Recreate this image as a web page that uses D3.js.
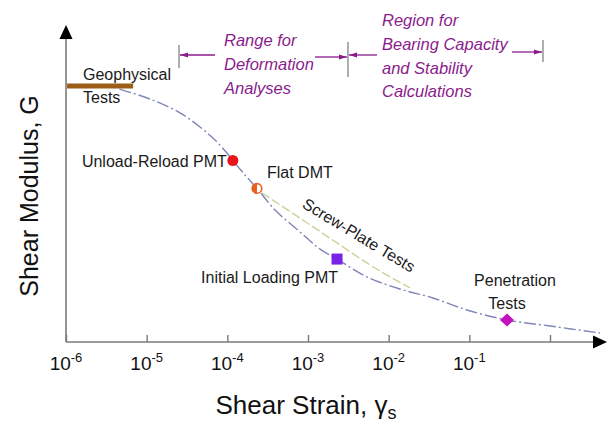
<!DOCTYPE html>
<html>
<head>
<meta charset="utf-8">
<script src="https://cdn.jsdelivr.net/npm/d3@7"></script>
<style>
  html, body { margin: 0; padding: 0; background: #fff; }
  svg { display: block; }
  text { font-family: "Liberation Sans", Arial, Helvetica, sans-serif; }
</style>
</head>
<body>
<svg id="chart" width="607" height="424"></svg>
<script>
// ---------- data ----------
const tickValues = [1e-6, 1e-5, 1e-4, 1e-3, 1e-2, 1e-1, 1];
const tickExponents = ["-6", "-5", "-4", "-3", "-2", "-1", ""];

// main modulus degradation curve (strain, normalised G)
const curveStrain = [4.6e-6, 1.10e-5, 2.59e-5, 4.58e-5, 7.03e-5, 9.90e-5, 1.17e-4, 1.66e-4, 2.33e-4, 3.9e-4, 7.96e-4, 1.41e-3, 2.29e-3, 5.38e-3, 1.38e-2, 3.54e-2, 9.35e-2, 0.293, 1.0, 4.17];
const curveG      = [0.988, 0.949, 0.895, 0.840, 0.789, 0.738, 0.709, 0.652, 0.600, 0.516, 0.430, 0.363, 0.324, 0.254, 0.207, 0.172, 0.125, 0.086, 0.0625, 0.035];

// screw-plate test branch
const screwStrain = [2.69e-4, 7.96e-4, 2.29e-3, 6.76e-3, 1.84e-2];
const screwG      = [0.582, 0.484, 0.387, 0.289, 0.211];

// geophysical tests band
const geoStrain = [1.03e-6, 6.8e-6];
const geoG = 1.0;

// test markers
const markerNames  = ["Unload-Reload PMT", "Flat DMT", "Initial Loading PMT", "Penetration Tests"];
const markerStrain = [1.17e-4, 2.33e-4, 2.29e-3, 0.293];
const markerG      = [0.709, 0.600, 0.324, 0.086];

// range brackets (strain limits)
const rangeBounds = [2.52e-5, 3.13e-3, 0.818];
const rangeLabels = [["Range for", "Deformation", "Analyses"],
                     ["Region for", "Bearing Capacity", "and Stability", "Calculations"]];

// ---------- layout ----------
const svg = d3.select("#chart");
const x = d3.scaleLog().domain([1e-6, 1]).range([66, 550]);
const y = d3.scaleLinear().domain([0, 1]).range([342, 86]);

const axisColor = "#7a7a7a";
const purple = "#8a1c8c";

// y axis line + arrow
svg.append("line").attr("x1", x(1e-6)).attr("x2", x(1e-6))
  .attr("y1", y(0)).attr("y2", 36)
  .attr("stroke", axisColor).attr("stroke-width", 1.6);
svg.append("path")
  .attr("d", `M${x(1e-6)},25 L${x(1e-6) - 6.5},39 L${x(1e-6) + 6.5},39 Z`)
  .attr("fill", "#000");

// x axis line + arrow
svg.append("line").attr("x1", x(1e-6)).attr("x2", 596)
  .attr("y1", y(0)).attr("y2", y(0))
  .attr("stroke", axisColor).attr("stroke-width", 1.6);
svg.append("path")
  .attr("d", `M607,${y(0)} L593,${y(0) - 6.5} L593,${y(0) + 6.5} Z`)
  .attr("fill", "#000");

// ticks via d3 axis
const xAxis = d3.axisBottom(x).tickValues(tickValues).tickSize(-7).tickFormat("");
const gx = svg.append("g").attr("transform", `translate(0,${y(0)})`).call(xAxis);
gx.select(".domain").remove();
gx.selectAll(".tick line").attr("stroke", axisColor).attr("stroke-width", 1.4);

// tick labels 10^n
const tl = svg.append("g").selectAll("text")
  .data(tickValues.map((v, i) => ({ v, e: tickExponents[i] })).filter(d => d.e !== ""))
  .join("text")
  .attr("x", d => x(d.v))
  .attr("y", 370)
  .attr("text-anchor", "middle")
  .attr("font-size", 19)
  .attr("fill", "#111");
tl.append("tspan").text("10");
tl.append("tspan").attr("font-size", 13).attr("dy", -8).text(d => d.e);

// axis titles
const xt = svg.append("text").attr("x", 306).attr("y", 414)
  .attr("text-anchor", "middle").attr("font-size", 26).attr("fill", "#111");
xt.append("tspan").text("Shear Strain, γ");
xt.append("tspan").attr("font-size", 18).attr("dy", 5).text("s");

svg.append("text")
  .attr("transform", "translate(38,196) rotate(-90)")
  .attr("text-anchor", "middle").attr("font-size", 25).attr("fill", "#111")
  .text("Shear Modulus, G");

// curves
const line = d3.line().x(d => x(d[0])).y(d => y(d[1])).curve(d3.curveCatmullRom.alpha(0.5));

svg.append("path")
  .datum(screwStrain.map((s, i) => [s, screwG[i]]))
  .attr("d", line).attr("fill", "none")
  .attr("stroke", "#cfcf98").attr("stroke-width", 1.4)
  .attr("stroke-dasharray", "9,3");

svg.append("path")
  .datum(curveStrain.map((s, i) => [s, curveG[i]]))
  .attr("d", line).attr("fill", "none")
  .attr("stroke", "#7f86b6").attr("stroke-width", 1.4)
  .attr("stroke-dasharray", "12,3,2,3");

// geophysical band
svg.append("line")
  .attr("x1", x(geoStrain[0])).attr("x2", x(geoStrain[1]))
  .attr("y1", y(geoG)).attr("y2", y(geoG))
  .attr("stroke", "#9c5e17").attr("stroke-width", 5);

// markers
const mx = i => x(markerStrain[i]);
const my = i => y(markerG[i]);
svg.append("circle").attr("cx", mx(0)).attr("cy", my(0)).attr("r", 5.5).attr("fill", "#e8161c");
svg.append("circle").attr("cx", mx(1)).attr("cy", my(1)).attr("r", 4.8)
  .attr("fill", "#fff").attr("stroke", "#e8601c").attr("stroke-width", 1.6);
svg.append("path")
  .attr("d", `M${mx(1)},${my(1) - 4.8} A4.8,4.8 0 0 0 ${mx(1)},${my(1) + 4.8} Z`)
  .attr("fill", "#e8601c");
svg.append("rect").attr("x", mx(2) - 5.5).attr("y", my(2) - 5.5)
  .attr("width", 11).attr("height", 11).attr("fill", "#7a22e6");
svg.append("path")
  .attr("d", `M${mx(3)},${my(3) - 6.5} L${mx(3) + 7},${my(3)} L${mx(3)},${my(3) + 6.5} L${mx(3) - 7},${my(3)} Z`)
  .attr("fill", "#c410be");

// labels
const lab = (t, xx, yy, anchor) => svg.append("text").attr("x", xx).attr("y", yy)
  .attr("text-anchor", anchor || "start").attr("font-size", 16).attr("fill", "#1a1a1a").text(t);
lab("Geophysical", 83, 80);
lab("Tests", 83, 103);
lab(markerNames[0], mx(0) - 6, 167, "end");
lab(markerNames[1], 267, 178);
lab(markerNames[2], 338, 283, "end");
lab("Penetration", 515, 286, "middle");
lab("Tests", 507, 309, "middle");
svg.append("text")
  .attr("transform", "translate(356,240) rotate(31)")
  .attr("text-anchor", "middle").attr("font-size", 16).attr("fill", "#1a1a1a")
  .text("Screw-Plate Tests");

// range brackets
const gray = "#9a9a9a";
function vbar(xx, y1, y2) {
  svg.append("line").attr("x1", xx).attr("x2", xx).attr("y1", y1).attr("y2", y2)
    .attr("stroke", gray).attr("stroke-width", 1.6);
}
function arrow(xFrom, xTo, yy) {
  svg.append("line").attr("x1", xFrom).attr("x2", xTo).attr("y1", yy).attr("y2", yy)
    .attr("stroke", purple).attr("stroke-width", 1.3);
  const dir = Math.sign(xTo - xFrom);
  svg.append("path")
    .attr("d", `M${xTo},${yy} L${xTo - dir * 8},${yy - 2.6} L${xTo - dir * 8},${yy + 2.6} Z`)
    .attr("fill", purple);
}
const b0 = x(rangeBounds[0]), b1 = x(rangeBounds[1]), b2 = x(rangeBounds[2]);
vbar(b0, 45, 68);
vbar(b1, 42, 77);
vbar(b2, 40, 62);
arrow(215, b0 + 1, 55);
arrow(315, b1 - 1, 57);
arrow(377, b1 + 1, 55);
arrow(512, b2 - 1, 52);

const rl = (lines, xx, y0) => lines.forEach((t, i) =>
  svg.append("text").attr("x", xx).attr("y", y0 + i * 23.8)
    .attr("font-size", 16.5).attr("font-style", "italic").attr("fill", purple).text(t));
rl(rangeLabels[0], 224, 46);
rl(rangeLabels[1], 382, 26);
</script>
</body>
</html>
